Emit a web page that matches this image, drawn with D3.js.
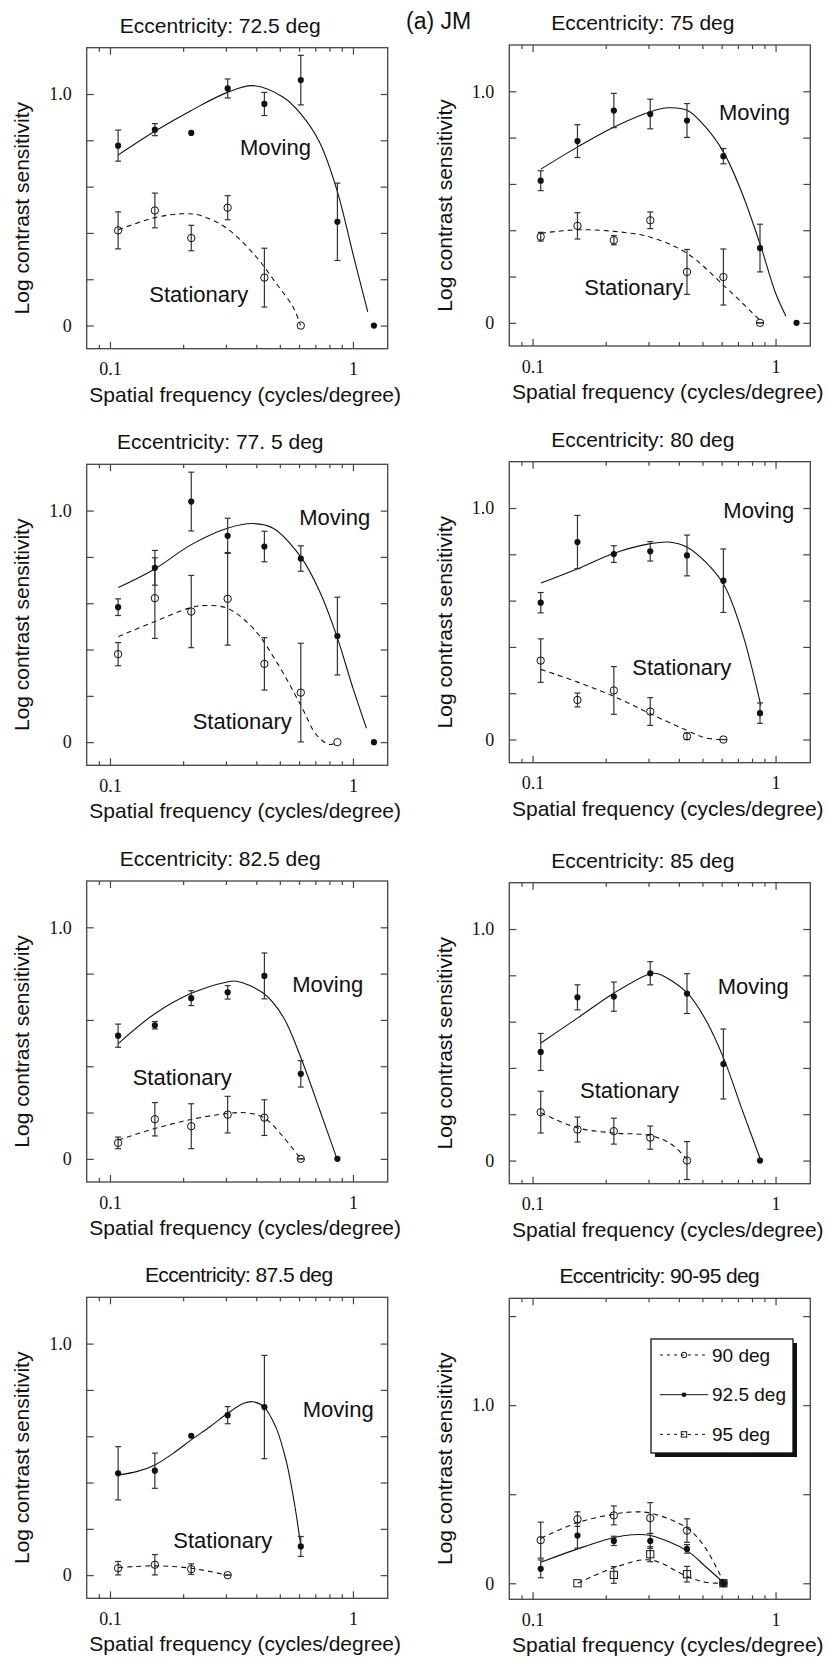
<!DOCTYPE html>
<html>
<head>
<meta charset="utf-8">
<script src="https://cdn.jsdelivr.net/npm/d3@7"></script>
<style>
  html, body { margin: 0; padding: 0; background: #fff; }
  svg { display: block; }
</style>
</head>
<body>
<svg id="chart" width="830" height="1662"></svg>
<script>
// Test spatial frequencies (cycles/degree), half-octave steps
const freqs = [0.108, 0.153, 0.216, 0.305, 0.432, 0.61, 0.863, 1.22];

// Axis ticks
const xMajorTicks = [0.1, 1];
const xMinorTicks = [0.09, 0.2, 0.3, 0.4, 0.5, 0.6, 0.7, 0.8, 0.9];
const yTicks = [0, 0.2, 0.4, 0.6, 0.8, 1.0];
const yTicksWide = [0, 0.5, 1.0, 1.5];
const yLabelled = [0, 1.0];

// ---- Eccentricity 72.5 deg ----
const e725Moving      = [0.777, 0.846, 0.832, 1.024, 0.957, 1.060, 0.448, 0];
const e725MovingErr   = [0.067, 0.026, null, 0.041, 0.050, 0.107, 0.167, null];
const e725MovingFit   = [[0.1082,0.737],[0.153,0.839],[0.2152,0.928],[0.3043,1.007],[0.3883,1.036],[0.5167,0.986],[0.6089,0.915],[0.7304,0.790],[0.8594,0.585],[1.0,0.31],[1.1508,0.059]];
const e725Stat        = [0.411, 0.497, 0.378, 0.509, 0.207, 0];
const e725StatErr     = [0.080, 0.075, 0.055, 0.052, 0.127, null];
const e725StatFit     = [[0.1082,0.414],[0.153,0.466],[0.2002,0.483],[0.2344,0.476],[0.3043,0.418],[0.4003,0.296],[0.4839,0.181],[0.5668,0.08],[0.6089,0.0]];

// ---- Eccentricity 75 deg ----
const e75Moving       = [0.614, 0.785, 0.917, 0.902, 0.874, 0.720, 0.323, 0];
const e75MovingErr    = [0.043, 0.071, 0.074, 0.064, 0.073, 0.033, 0.103, null];
const e75MovingFit    = [[0.1082,0.664],[0.1534,0.760],[0.2166,0.846],[0.3056,0.912],[0.3627,0.929],[0.4327,0.918],[0.5149,0.846],[0.6146,0.732],[0.7283,0.560],[0.87,0.330],[1.0,0.129],[1.1036,0.029]];
const e75Stat         = [0.372, 0.419, 0.357, 0.443, 0.220, 0.198, 0];
const e75StatErr      = [0.019, 0.057, 0.020, 0.036, 0.097, 0.121, 0];
const e75StatFit      = [[0.1082,0.387],[0.1534,0.402],[0.2166,0.395],[0.3056,0.370],[0.4327,0.300],[0.6146,0.160],[0.87,0.007]];

// ---- Eccentricity 77.5 deg ----
const e775Moving      = [0.583, 0.753, 1.039, 0.891, 0.845, 0.793, 0.458, 0];
const e775MovingErr   = [0.036, 0.075, 0.127, 0.076, 0.066, 0.055, 0.168, null];
const e775MovingFit   = [[0.1082,0.668],[0.153,0.748],[0.2152,0.852],[0.3043,0.924],[0.3883,0.944],[0.4692,0.924],[0.6089,0.801],[0.7304,0.650],[0.8594,0.456],[1.0,0.233],[1.1365,0.06]];
const e775Stat        = [0.380, 0.622, 0.564, 0.619, 0.338, 0.214, 0];
const e775StatErr     = [0.050, 0.174, 0.156, 0.200, 0.113, 0.213, null];
const e775StatFit     = [[0.1082,0.456],[0.153,0.521],[0.2152,0.581],[0.2496,0.590],[0.3043,0.578],[0.3883,0.492],[0.4839,0.348],[0.6089,0.161],[0.7071,0.032],[0.8003,-0.01],[0.8594,0.0]];

// ---- Eccentricity 80 deg ----
const e80Moving       = [0.591, 0.853, 0.801, 0.813, 0.795, 0.686, 0.114];
const e80MovingErr    = [0.044, 0.115, 0.036, 0.042, 0.088, 0.137, 0.044];
const e80MovingFit    = [[0.1082,0.676],[0.1534,0.738],[0.2166,0.805],[0.3056,0.846],[0.3627,0.853],[0.4327,0.831],[0.5149,0.767],[0.6146,0.666],[0.7283,0.464],[0.87,0.147]];
const e80Stat         = [0.341, 0.171, 0.212, 0.121, 0.014, 0];
const e80StatErr      = [0.094, 0.030, 0.103, 0.060, 0.014, 0];
const e80StatFit      = [[0.1082,0.303],[0.1534,0.248],[0.2166,0.186],[0.3056,0.111],[0.4327,0.039],[0.5149,0.007],[0.6146,0.0]];

// ---- Eccentricity 82.5 deg ----
const e825Moving      = [0.532, 0.577, 0.694, 0.719, 0.790, 0.367, 0];
const e825MovingErr   = [0.050, 0.016, 0.032, 0.029, 0.099, 0.057, null];
const e825MovingFit   = [[0.1082,0.498],[0.153,0.627],[0.2152,0.714],[0.3043,0.764],[0.3314,0.767],[0.4297,0.714],[0.5164,0.613],[0.6089,0.44],[0.7304,0.21],[0.8594,0.0]];
const e825Stat        = [0.069, 0.171, 0.141, 0.191, 0.178, 0];
const e825StatErr     = [0.025, 0.072, 0.097, 0.079, 0.077, 0];
const e825StatFit     = [[0.1082,0.081],[0.153,0.131],[0.2152,0.170],[0.3043,0.196],[0.3647,0.199],[0.4297,0.178],[0.5164,0.095],[0.6089,0.0]];

// ---- Eccentricity 85 deg ----
const e85Moving       = [0.469, 0.705, 0.708, 0.809, 0.721, 0.417, 0];
const e85MovingErr    = [0.080, 0.054, 0.063, 0.050, 0.086, 0.151, null];
const e85MovingFit    = [[0.1082,0.508],[0.1534,0.616],[0.2166,0.724],[0.3056,0.807],[0.3303,0.806],[0.4327,0.724],[0.5149,0.609],[0.6146,0.436],[0.7283,0.220],[0.87,0.0]];
const e85Stat         = [0.209, 0.134, 0.127, 0.099, 0.0];
const e85StatErr      = [0.090, 0.054, 0.056, 0.050, 0.082];
const e85StatFit      = [[0.1082,0.206],[0.1534,0.141],[0.2166,0.119],[0.3056,0.108],[0.3744,0.069],[0.4327,0.004]];

// ---- Eccentricity 87.5 deg ----
const e875Moving      = [0.440, 0.451, 0.602, 0.691, 0.726, 0.124];
const e875MovingErr   = [0.115, 0.076, null, 0.037, 0.223, 0.043];
const e875MovingFit   = [[0.1082,0.433],[0.1287,0.447],[0.153,0.476],[0.182,0.526],[0.2152,0.583],[0.2578,0.641],[0.3043,0.698],[0.3533,0.741],[0.3883,0.749],[0.4297,0.727],[0.4839,0.634],[0.532,0.490],[0.5757,0.303],[0.6089,0.131]];
const e875Stat        = [0.030, 0.045, 0.026, 0];
const e875StatErr     = [0.029, 0.044, 0.023, 0];
const e875StatFit     = [[0.1082,0.033],[0.153,0.040],[0.2152,0.030],[0.3043,0.0]];

// ---- Eccentricity 90-95 deg ----
const e90             = [0.242, 0.360, 0.381, 0.366, 0.296, 0];
const e90Err          = [0.101, 0.041, 0.053, 0.087, 0.066, 0];
const e90Fit          = [[0.1082,0.253],[0.1534,0.341],[0.2166,0.388],[0.256,0.400],[0.3056,0.394],[0.4327,0.310],[0.5149,0.197],[0.6146,0.0]];
const e925            = [0.081, 0.268, 0.238, 0.238, 0.193, 0];
const e925Err         = [0.050, 0.071, 0.026, 0.042, 0.024, null];
const e925Fit         = [[0.1082,0.118],[0.1534,0.193],[0.2166,0.257],[0.256,0.272],[0.3056,0.268],[0.4327,0.182],[0.5149,0.094],[0.6146,0.0]];
const e95             = [null, 0, 0.047, 0.163, 0.051, 0];
const e95Err          = [null, null, 0.047, 0.042, 0.044, null];
const e95Fit          = [[0.1534,0.0],[0.2166,0.088],[0.3056,0.131],[0.4327,0.038],[0.5149,0.006],[0.6146,0.0]];

const legendLabels = ["90 deg", "92.5 deg", "95 deg"];

// ---------------------------------------------------------------
const W = 301, H = 301;
const SANS = "'Liberation Sans', Arial, Helvetica, sans-serif";
const SERIF = "'Liberation Serif', 'Times New Roman', serif";
const INK = "#111";
const FRAME = "#444";

const svg = d3.select("#chart");

const mv = (vals, err, fit) => ({ vals, err, fit, marker: "dot", dashed: false });
const st = (vals, err, fit) => ({ vals, err, fit, marker: "ring", dashed: true });

const panels = [
  { title: "Eccentricity: 72.5 deg", left: 86.7, top: 47.7, yDomain: [-0.1, 1.2], yTicks, titleDx: 133.5, narrow: false,
    series: [mv(e725Moving, e725MovingErr, e725MovingFit), st(e725Stat, e725StatErr, e725StatFit)],
    labels: [["Moving", 153.3, 107.3], ["Stationary", 62.6, 254]] },
  { title: "Eccentricity: 75 deg", left: 509.3, top: 45, yDomain: [-0.1, 1.2], yTicks, titleDx: 133.5, narrow: false,
    series: [mv(e75Moving, e75MovingErr, e75MovingFit), st(e75Stat, e75StatErr, e75StatFit)],
    labels: [["Moving", 209.7, 75], ["Stationary", 75, 250]] },
  { title: "Eccentricity: 77. 5 deg", left: 86.7, top: 464.3, yDomain: [-0.1, 1.2], yTicks, titleDx: 133.5, narrow: false,
    series: [mv(e775Moving, e775MovingErr, e775MovingFit), st(e775Stat, e775StatErr, e775StatFit)],
    labels: [["Moving", 212.6, 60.7], ["Stationary", 106, 265]] },
  { title: "Eccentricity: 80 deg", left: 509.3, top: 461.7, yDomain: [-0.1, 1.2], yTicks, titleDx: 133.5, narrow: false,
    series: [mv(e80Moving, e80MovingErr, e80MovingFit), st(e80Stat, e80StatErr, e80StatFit)],
    labels: [["Moving", 214, 56], ["Stationary", 123, 213.3]] },
  { title: "Eccentricity: 82.5 deg", left: 86.7, top: 881, yDomain: [-0.1, 1.2], yTicks, titleDx: 133.5, narrow: false,
    series: [mv(e825Moving, e825MovingErr, e825MovingFit), st(e825Stat, e825StatErr, e825StatFit)],
    labels: [["Moving", 205.6, 110.7], ["Stationary", 46, 204]] },
  { title: "Eccentricity: 85 deg", left: 509.3, top: 882.7, yDomain: [-0.1, 1.2], yTicks, titleDx: 133.5, narrow: false,
    series: [mv(e85Moving, e85MovingErr, e85MovingFit), st(e85Stat, e85StatErr, e85StatFit)],
    labels: [["Moving", 208.4, 111.3], ["Stationary", 70.7, 215]] },
  { title: "Eccentricity: 87.5 deg", left: 86.7, top: 1297.3, yDomain: [-0.1, 1.2], yTicks, titleDx: 152, narrow: true,
    series: [mv(e875Moving, e875MovingErr, e875MovingFit), st(e875Stat, e875StatErr, e875StatFit)],
    labels: [["Moving", 216, 119.4], ["Stationary", 86.6, 250.4]] },
  { title: "Eccentricity: 90-95 deg", left: 509.3, top: 1298.3, yDomain: [-0.09, 1.6], yTicks: yTicksWide, titleDx: 150, narrow: true,
    series: [
      { vals: e90, err: e90Err, fit: e90Fit, marker: "ring", dashed: true },
      { vals: e925, err: e925Err, fit: e925Fit, marker: "dot", dashed: false },
      { vals: e95, err: e95Err, fit: e95Fit, marker: "square", dashed: true }
    ],
    labels: [], legend: true }
];

function drawMarker(sel, type, cx, cy, scale) {
  const s = scale || 1;
  if (type === "dot") {
    sel.append("circle").attr("cx", cx).attr("cy", cy).attr("r", 3.1 * s).attr("fill", INK);
  } else if (type === "ring") {
    sel.append("circle").attr("cx", cx).attr("cy", cy).attr("r", 3.7 * s)
      .attr("fill", "none").attr("stroke", INK).attr("stroke-width", 1);
  } else {
    const h = 3.6 * s;
    sel.append("rect").attr("x", cx - h).attr("y", cy - h).attr("width", 2 * h).attr("height", 2 * h)
      .attr("fill", "none").attr("stroke", INK).attr("stroke-width", 1);
  }
}

function drawPanel(p) {
  const g = svg.append("g").attr("transform", `translate(${p.left},${p.top})`);
  const x = d3.scaleLog().domain([0.0802, 1.39]).range([0, W]);
  const y = d3.scaleLinear().domain(p.yDomain).range([H, 0]);

  // ticks (all pointing inward)
  const styleAxis = a => {
    a.select(".domain").remove();
    a.selectAll(".tick line").attr("stroke", FRAME).attr("stroke-width", 1.2);
    a.selectAll("text").attr("font-family", SERIF).attr("font-size", 18).attr("fill", INK);
  };
  g.append("g").attr("transform", `translate(0,${H})`)
    .call(d3.axisBottom(x).tickValues(xMajorTicks).tickSize(-7).tickPadding(14)
      .tickFormat(d => d === 1 ? "1" : "0.1"))
    .call(styleAxis);
  g.append("g").attr("transform", `translate(0,${H})`)
    .call(d3.axisBottom(x).tickValues(xMinorTicks).tickSize(-4).tickFormat(""))
    .call(styleAxis);
  g.append("g")
    .call(d3.axisTop(x).tickValues(xMajorTicks).tickSize(-7).tickFormat(""))
    .call(styleAxis);
  g.append("g")
    .call(d3.axisTop(x).tickValues(xMinorTicks).tickSize(-4).tickFormat(""))
    .call(styleAxis);
  g.append("g")
    .call(d3.axisLeft(y).tickValues(p.yTicks).tickSize(-7).tickPadding(15)
      .tickFormat(d => yLabelled.includes(d) ? (d === 0 ? "0" : "1.0") : ""))
    .call(styleAxis);
  g.append("g").attr("transform", `translate(${W},0)`)
    .call(d3.axisRight(y).tickValues(p.yTicks).tickSize(-7).tickFormat(""))
    .call(styleAxis);

  // frame
  g.append("rect").attr("width", W).attr("height", H)
    .attr("fill", "none").attr("stroke", FRAME).attr("stroke-width", 1.3);

  // fitted curves
  const line = d3.line().x(d => x(d[0])).y(d => y(d[1])).curve(d3.curveCatmullRom.alpha(0.5));
  p.series.forEach(s => {
    g.append("path").attr("d", line(s.fit))
      .attr("fill", "none").attr("stroke", INK).attr("stroke-width", 1.1)
      .attr("stroke-dasharray", s.dashed ? "5,4" : null);
  });

  // error bars
  p.series.forEach(s => {
    s.vals.forEach((v, i) => {
      const e = s.err[i];
      if (v === null || e === null || e === undefined) return;
      const cx = x(freqs[i]);
      const y0 = y(v - e), y1 = y(v + e);
      const eg = g.append("g").attr("stroke", "#333").attr("stroke-width", 1.2);
      eg.append("line").attr("x1", cx).attr("x2", cx).attr("y1", y0).attr("y2", y1);
      eg.append("line").attr("x1", cx - 3).attr("x2", cx + 3).attr("y1", y0).attr("y2", y0);
      eg.append("line").attr("x1", cx - 3).attr("x2", cx + 3).attr("y1", y1).attr("y2", y1);
    });
  });

  // data points
  p.series.forEach(s => {
    s.vals.forEach((v, i) => {
      if (v === null) return;
      drawMarker(g, s.marker, x(freqs[i]), y(v));
    });
  });

  // in-plot labels
  p.labels.forEach(([t, dx, dy]) => {
    g.append("text").attr("x", dx).attr("y", dy).text(t)
      .attr("font-family", SANS).attr("font-size", 22).attr("fill", INK);
  });

  // title and axis titles
  g.append("text").attr("x", p.titleDx).attr("y", -15).attr("text-anchor", "middle")
    .attr("font-family", SANS).attr("font-size", 21).attr("fill", INK)
    .attr("letter-spacing", p.narrow ? "-0.6px" : null)
    .text(p.title);
  g.append("text").attr("x", W / 2 + 8).attr("y", H + 53).attr("text-anchor", "middle")
    .attr("font-family", SANS).attr("font-size", 21).attr("fill", INK)
    .text("Spatial frequency (cycles/degree)");
  g.append("text").attr("transform", `translate(-65,${H / 2 + 10}) rotate(-90)`)
    .attr("text-anchor", "middle").attr("dominant-baseline", "central")
    .attr("font-family", SANS).attr("font-size", 21).attr("fill", INK)
    .text("Log contrast sensitivity");

  // legend
  if (p.legend) {
    const lg = g.append("g").attr("transform", "translate(141.7,40.7)");
    const lw = 142, lh = 114;
    lg.append("rect").attr("x", 4).attr("y", 4).attr("width", lw).attr("height", lh).attr("fill", "#111");
    lg.append("rect").attr("width", lw).attr("height", lh)
      .attr("fill", "#fff").attr("stroke", "#111").attr("stroke-width", 1.3);
    legendLabels.forEach((lab, i) => {
      const s = p.series[i];
      const ly = 16 + i * 39.7;
      lg.append("line").attr("x1", 9).attr("x2", 57).attr("y1", ly).attr("y2", ly)
        .attr("stroke", INK).attr("stroke-width", 1)
        .attr("stroke-dasharray", s.dashed ? "3,4" : null);
      drawMarker(lg, s.marker, 33, ly, 0.75);
      lg.append("text").attr("x", 61).attr("y", ly).attr("dominant-baseline", "central")
        .attr("font-family", SANS).attr("font-size", 19).attr("fill", INK).text(lab);
    });
  }
}

panels.forEach(drawPanel);

// figure tag
svg.append("text").attr("x", 406).attr("y", 29).text("(a) JM")
  .attr("font-family", SANS).attr("font-size", 23).attr("fill", INK);
</script>
</body>
</html>
